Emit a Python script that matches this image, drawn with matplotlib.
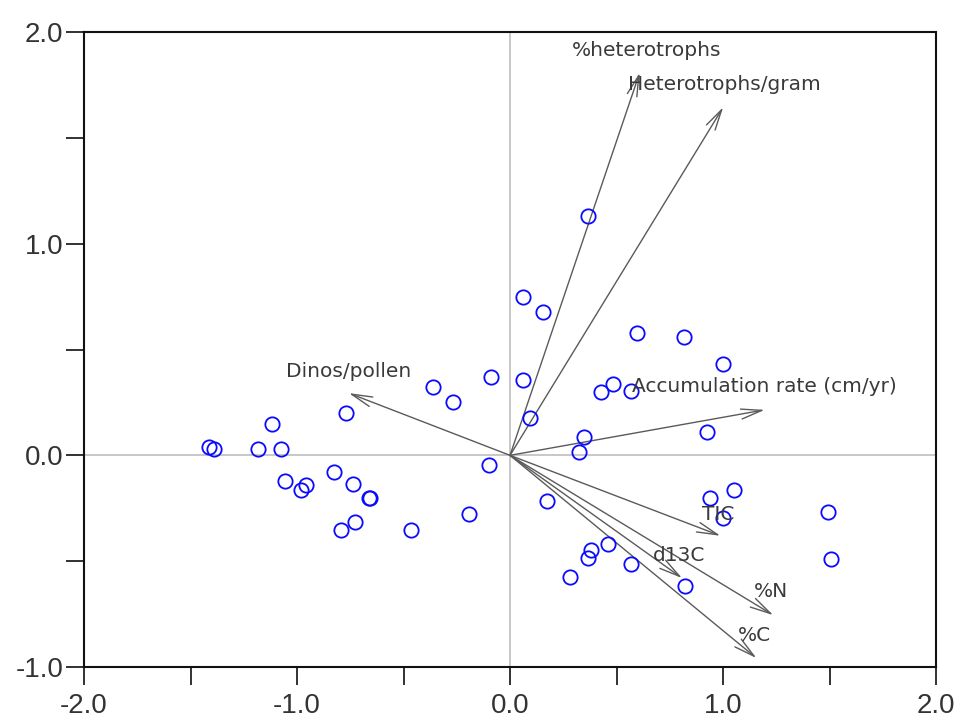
import matplotlib
matplotlib.use("Agg")
import matplotlib.pyplot as plt
from matplotlib.ticker import MultipleLocator, FormatStrFormatter

# Sample scores (ordination axis 1 / axis 2)
sample_x = [-1.414, -1.391, -1.182, -1.077, -1.116, -0.769, -0.362, -0.267, -0.087,
            -0.100, -1.057, -0.960, -0.980, -0.827, -0.739, -0.663, -0.657, -0.730,
            -0.792, -0.467, -0.192,
            0.367, 0.060, 0.156, 0.597, 0.819, 0.999, 0.060, 0.483, 0.428, 0.569,
            0.093, 0.926, 0.348, 0.325,
            0.175, 0.937, 1.051, 0.999, 1.494, 1.505, 0.461, 0.378, 0.367, 0.566,
            0.281, 0.821]
sample_y = [0.039, 0.029, 0.029, 0.032, 0.147, 0.199, 0.325, 0.253, 0.369,
            -0.046, -0.119, -0.139, -0.166, -0.078, -0.133, -0.201, -0.203, -0.314,
            -0.355, -0.355, -0.278,
            1.133, 0.750, 0.676, 0.580, 0.558, 0.432, 0.357, 0.338, 0.297, 0.305,
            0.177, 0.112, 0.086, 0.018,
            -0.216, -0.202, -0.163, -0.294, -0.268, -0.490, -0.418, -0.446, -0.483,
            -0.514, -0.575, -0.616]

# Variable loadings (arrow tips)
var_names = ["%heterotrophs", "Heterotrophs/gram", "Accumulation rate (cm/yr)",
             "Dinos/pollen", "TIC", "d13C", "%N", "%C"]
var_x = [0.609, 1.001, 1.196, -0.757, 0.988, 0.808, 1.236, 1.157]
var_y = [1.808, 1.645, 0.215, 0.294, -0.380, -0.580, -0.755, -0.958]

# Label anchor points (left edge, baseline)
label_x = [0.292, 0.555, 0.574, -1.054, 0.902, 0.672, 1.143, 1.068]
label_y = [1.887, 1.727, 0.301, 0.372, -0.305, -0.497, -0.667, -0.876]

x_ticks = [-2.0, -1.0, 0.0, 1.0, 2.0]
y_ticks = [-1.0, 0.0, 1.0, 2.0]

fig = plt.figure(figsize=(9.56, 7.24), dpi=100)
ax = fig.add_axes([0.0879, 0.0787, 0.8912, 0.8771])

ax.set_xlim(-2.0, 2.0)
ax.set_ylim(-1.0, 2.0)

ax.axhline(0, color="#c4c4c4", lw=1.3, zorder=1)
ax.axvline(0, color="#c4c4c4", lw=1.3, zorder=1)

ax.plot(sample_x, sample_y, linestyle="none", marker="o", markersize=10.3,
        markerfacecolor="none", markeredgecolor="#0a0aff", markeredgewidth=1.3,
        zorder=3)

for name, vx, vy, lx, ly in zip(var_names, var_x, var_y, label_x, label_y):
    ax.annotate("", xy=(vx, vy), xytext=(0, 0),
                arrowprops=dict(arrowstyle="->,head_length=0.75,head_width=0.18",
                                mutation_scale=20, shrinkA=0, shrinkB=0,
                                lw=1.0, color="#5a5a5a"),
                zorder=2)
    ax.text(lx, ly, name, ha="left", va="baseline", fontsize=14.5,
            family="DejaVu Sans", color="#3a3a3a", zorder=4)

ax.set_xticks(x_ticks)
ax.set_yticks(y_ticks)
ax.xaxis.set_minor_locator(MultipleLocator(0.5))
ax.yaxis.set_minor_locator(MultipleLocator(0.5))
ax.xaxis.set_major_formatter(FormatStrFormatter("%.1f"))
ax.yaxis.set_major_formatter(FormatStrFormatter("%.1f"))

ax.tick_params(which="both", direction="out", length=13, width=1.3, color="#222222")
ax.tick_params(axis="y", which="major", pad=2)
ax.tick_params(axis="x", which="major", pad=6)
for lab in ax.get_xticklabels() + ax.get_yticklabels():
    lab.set_family("Liberation Sans")
    lab.set_fontsize(20)
    lab.set_color("#333333")

for sp in ax.spines.values():
    sp.set_linewidth(1.5)
    sp.set_color("#111111")

fig.savefig("out.png", dpi=100)
